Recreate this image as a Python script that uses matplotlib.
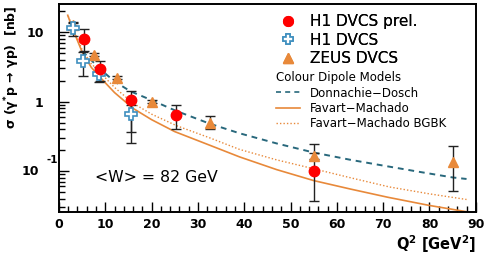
import matplotlib
matplotlib.use("Agg")
import matplotlib.pyplot as plt
import matplotlib.transforms as mtransforms
import numpy as np
from matplotlib.lines import Line2D
from matplotlib.ticker import FixedLocator, FixedFormatter, MultipleLocator, LogLocator, NullFormatter

plt.rcParams['font.family'] = ['DejaVu Sans']
plt.rcParams['mathtext.fontset'] = 'dejavusans'

# H1 DVCS prel. (red circles)
h1p_q2 = [5.4, 8.85, 15.5, 25.2, 55.0]
h1p_y = [8.0, 2.9, 1.07, 0.65, 0.10]
h1p_lo = [5.3, 2.0, 0.36, 0.41, 0.0375]
h1p_hi = [11.2, 3.8, 1.42, 0.88, 0.246]

# H1 DVCS (open crosses)
h1_q2 = [2.95, 5.25, 8.75, 15.5]
h1_y = [11.3, 3.9, 2.5, 0.66]
h1_lo = [8.7, 2.3, 1.94, 0.25]
h1_hi = [14.2, 5.1, 3.1, 0.9]

# ZEUS DVCS (triangles)
zeus_q2 = [3.0, 7.55, 12.45, 20.0, 32.6, 55.0, 85.0]
zeus_y = [12.5, 4.75, 2.2, 1.0, 0.50, 0.165, 0.137]
zeus_lo = [11.5, 4.5, 2.1, 0.95, 0.405, 0.15, 0.051]
zeus_hi = [13.5, 5.0, 2.3, 1.05, 0.63, 0.18, 0.233]

# Colour dipole model curves
dd_q2 = [5.0, 6.3, 8.85, 12.0, 15.5, 20.0, 25.2, 32.6, 39.0, 47.0, 55.0, 63.0, 70.0, 78.0, 85.0, 88.0]
dd_y = [5.3, 4.4, 2.95, 1.95, 1.40, 1.05, 0.74, 0.48, 0.35, 0.25, 0.185, 0.145, 0.12, 0.097, 0.081, 0.077]

fm_q2 = [1.9, 3.0, 5.0, 7.0, 9.0, 12.0, 16.0, 20.0, 25.0, 32.6, 39.0, 47.0, 55.0, 63.0, 71.0, 80.0, 88.0]
fm_y = [17.5, 11.0, 5.2, 3.1, 2.2, 1.35, 0.80, 0.55, 0.37, 0.235, 0.16, 0.105, 0.073, 0.055, 0.042, 0.032, 0.026]

bgbk_q2 = [2.0, 3.0, 5.0, 7.0, 8.85, 12.0, 16.0, 20.0, 25.4, 32.6, 39.0, 47.0, 55.0, 63.0, 71.4, 80.0, 88.0]
bgbk_y = [17.0, 11.5, 5.6, 3.5, 2.65, 1.6, 0.95, 0.66, 0.45, 0.30, 0.205, 0.145, 0.108, 0.08, 0.059, 0.047, 0.039]

red = '#ff0000'
orange = '#e8893a'
teal = '#28687c'
cross_blue = '#3f8fbf'

fig = plt.figure(figsize=(4.87, 2.58), dpi=100)
ax = fig.add_axes([0.121, 0.178, 0.856, 0.806])

ax.plot(fm_q2, fm_y, color=orange, lw=1.2, zorder=2)
ax.plot(bgbk_q2, bgbk_y, color=orange, lw=1.0, ls=(0, (1, 1.5)), zorder=2)
ax.plot(dd_q2, dd_y, color=teal, lw=1.4, ls=(0, (3, 2.5)), zorder=2)


def draw(q2, y, lo, hi, **kw):
    y = np.array(y)
    err = [y - np.array(lo), np.array(hi) - y]
    ax.errorbar(q2, y, yerr=err, fmt='none', ecolor='#222222', elinewidth=1.0,
                capsize=3.5, capthick=1.0, zorder=3)
    ax.plot(q2, y, ls='none', zorder=4, **kw)


draw(zeus_q2, zeus_y, zeus_lo, zeus_hi, marker='^', ms=7, color=orange, mec=orange)
draw(h1_q2, h1_y, h1_lo, h1_hi, marker='P', ms=8, mfc='white', mec=cross_blue, mew=1.2)
draw(h1p_q2, h1p_y, h1p_lo, h1p_hi, marker='o', ms=7.5, color=red, mec=red)

ax.set_yscale('log')
ax.set_xlim(0, 90)
ax.set_ylim(0.0257, 25.3)

ax.xaxis.set_major_locator(MultipleLocator(10))
ax.xaxis.set_minor_locator(MultipleLocator(2))
ax.yaxis.set_major_locator(FixedLocator([0.1, 1, 10]))
ax.yaxis.set_major_formatter(FixedFormatter(['', '1', '10']))
ax.yaxis.set_minor_locator(LogLocator(base=10, subs=np.arange(2, 10)))
ax.yaxis.set_minor_formatter(NullFormatter())

ax.tick_params(which='both', direction='in', top=False, right=False, width=1.0)
ax.tick_params(which='major', length=7, labelsize=9)
ax.tick_params(axis='x', which='major', pad=4)
ax.tick_params(axis='y', which='major', pad=11)
ax.tick_params(which='minor', length=4)
for lab in ax.get_xticklabels() + ax.get_yticklabels():
    lab.set_fontweight('bold')
for sp in ax.spines.values():
    sp.set_linewidth(1.4)

# the 10^-1 tick label, ROOT style with a detached exponent
trans = mtransforms.blended_transform_factory(ax.transAxes, ax.transData)
ax.text(-0.047, 0.1, '10', transform=trans, ha='right', va='center', fontsize=9,
        fontweight='bold')
ax.text(-0.029, 0.145, '-1', transform=trans, ha='left', va='center', fontsize=7.5,
        fontweight='bold')

ax.text(0.087, 0.168, '<W> = 82 GeV', transform=ax.transAxes, fontsize=11.3, va='center')

fig.text(0.977, 0.012, 'Q$^{\\mathbf{2}}$ [GeV$^{\\mathbf{2}}$]', ha='right', va='bottom',
         fontsize=10.5, fontweight='bold')
fig.text(0.025, 0.978, 'σ (γ$^{\\mathbf{*}}$p → γp)  [nb]', rotation=90, ha='center', va='top',
         fontsize=9, fontweight='bold')

h_markers = [
    Line2D([], [], ls='none', marker='o', ms=7, color=red),
    Line2D([], [], ls='none', marker='P', ms=7, mfc='white', mec=cross_blue, mew=1.2),
    Line2D([], [], ls='none', marker='^', ms=6.5, color=orange),
]
leg1 = fig.legend(h_markers, ['H1 DVCS prel.', 'H1 DVCS', 'ZEUS DVCS'], loc='upper left',
                  bbox_to_anchor=(0.576, 0.946), frameon=False, fontsize=11, handlelength=1.0,
                  handletextpad=0.93, labelspacing=0.24, borderpad=0, borderaxespad=0)

h_lines = [
    Line2D([], [], color=teal, lw=1.2, ls=(0, (3, 2.5))),
    Line2D([], [], color=orange, lw=1.2),
    Line2D([], [], color=orange, lw=1.0, ls=(0, (1, 1.5))),
]
leg2 = fig.legend(h_lines, ['Donnachie−Dosch', 'Favart−Machado', 'Favart−Machado BGBK'],
                  loc='upper left', bbox_to_anchor=(0.567, 0.724), frameon=False, fontsize=8.5,
                  title='Colour Dipole Models', title_fontsize=8.5, alignment='left',
                  handlelength=2.0, handletextpad=0.85, labelspacing=0.2, borderpad=0,
                  borderaxespad=0)
fig.add_artist(leg1)

fig.savefig('out.png', dpi=100)
